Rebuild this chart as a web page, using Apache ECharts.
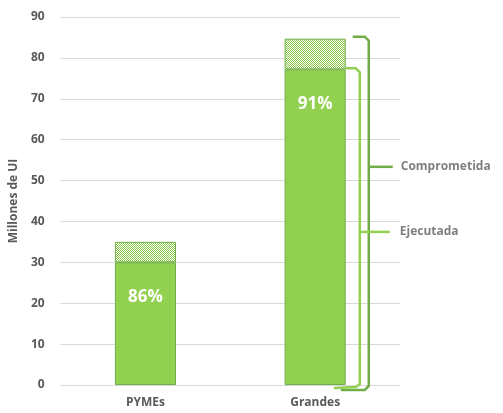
<!DOCTYPE html>
<html><head><meta charset="utf-8">
<script src="https://cdn.jsdelivr.net/npm/echarts@6/dist/echarts.min.js"></script>
<style>html,body{margin:0;padding:0;background:#fff}#c{width:503px;height:413px}</style>
</head><body><div id="c"></div>
<script>
var categories = ['PYMEs', 'Grandes'];
var comprometida = [35, 84.7];
var ejecutada = [30, 77.2];
var pctLabels = ['86%', '91%'];
var yTicks = [0, 10, 20, 30, 40, 50, 60, 70, 80, 90];
var bracketLabels = ['Comprometida', 'Ejecutada'];

var diff = comprometida.map(function (v, i) { return +(v - ejecutada[i]).toFixed(2); });

var pc = document.createElement('canvas');
pc.width = 2; pc.height = 2;
var pctx = pc.getContext('2d');
pctx.fillStyle = '#ffffff'; pctx.fillRect(0, 0, 2, 2);
pctx.fillStyle = '#86c446'; pctx.fillRect(0, 0, 1, 1); pctx.fillRect(1, 1, 1, 1);

var chart = echarts.init(document.getElementById('c'), null, { renderer: 'canvas' });
var font = 'Open Sans';
var gridL = 60, gridR = 103, gridT = 17, gridB = 28;
chart.setOption({
  animation: false,
  grid: { left: gridL, right: gridR, top: gridT, bottom: gridB },
  xAxis: {
    type: 'category', data: categories,
    axisLine: { show: false }, axisTick: { show: false },
    axisLabel: { color: '#595959', fontFamily: font, fontWeight: 'bold', fontSize: 12, margin: 12 }
  },
  yAxis: {
    type: 'value', min: yTicks[0], max: yTicks[yTicks.length - 1], interval: 10,
    name: 'Millones de UI', nameLocation: 'middle', nameGap: 38,
    nameTextStyle: { color: '#595959', fontFamily: font, fontWeight: 'bold', fontSize: 12 },
    axisLine: { show: false }, axisTick: { show: false },
    axisLabel: { color: '#595959', fontFamily: font, fontWeight: 'bold', fontSize: 12, margin: 16 },
    splitLine: { lineStyle: { color: '#d9d9d9', width: 1 } }
  },
  series: [
    {
      type: 'bar', stack: 'a', data: ejecutada, barWidth: '36%',
      itemStyle: { color: '#92d050', borderColor: '#70ad47', borderWidth: 1 },
      label: {
        show: true, position: 'insideTop', distance: 26,
        formatter: function (p) { return pctLabels[p.dataIndex]; },
        color: '#ffffff', fontFamily: font, fontWeight: 'bold', fontSize: 17
      }
    },
    {
      type: 'bar', stack: 'a', data: diff, barWidth: '36%',
      itemStyle: { color: { image: pc, repeat: 'repeat' }, borderColor: '#70ad47', borderWidth: 1 }
    }
  ]
});

function drawBrackets() {
  var idx = 1;
  var p0 = chart.convertToPixel({ seriesIndex: 0 }, [idx, 0]);
  var pE = chart.convertToPixel({ seriesIndex: 0 }, [idx, ejecutada[idx]]);
  var pC = chart.convertToPixel({ seriesIndex: 0 }, [idx, comprometida[idx]]);
  var catW = (503 - gridL - gridR) / categories.length;
  var barRight = pE[0] + catW * 0.18;
  var y0 = p0[1];
  var xC = barRight + 23, xE = barRight + 14;
  var darkG = '#70ad47', lightG = '#92d050';
  var yCmid = pC[1] + (y0 - pC[1]) * 0.37;
  var yEmid = pE[1] + (y0 - pE[1]) * 0.515;
  var g = [
    { type: 'polyline', shape: { points: [[barRight + 7, pC[1] - 2], [xC - 4, pC[1] - 2], [xC, pC[1] + 2], [xC, y0 + 1], [xC - 4, y0 + 5], [barRight - 5, y0 + 5]] },
      style: { stroke: darkG, lineWidth: 2.5, fill: null } },
    { type: 'polyline', shape: { points: [[barRight, pE[1] - 1], [xE - 4, pE[1] - 1], [xE, pE[1] + 3], [xE, y0 - 1], [xE - 4, y0 + 2], [barRight - 12, y0 + 3]] },
      style: { stroke: lightG, lineWidth: 2.5, fill: null } },
    { type: 'line', shape: { x1: xC, y1: yCmid, x2: xC + 24, y2: yCmid }, style: { stroke: darkG, lineWidth: 2.5 } },
    { type: 'line', shape: { x1: xE, y1: yEmid, x2: xE + 30, y2: yEmid }, style: { stroke: lightG, lineWidth: 2.5 } },
    { type: 'text', x: xC + 32, y: yCmid, style: { text: bracketLabels[0], fill: '#7f7f7f', font: 'bold 12px "Open Sans"', verticalAlign: 'middle' } },
    { type: 'text', x: xE + 40, y: yEmid, style: { text: bracketLabels[1], fill: '#7f7f7f', font: 'bold 12px "Open Sans"', verticalAlign: 'middle' } }
  ];
  chart.setOption({ graphic: g });
}
drawBrackets();
</script></body></html>
